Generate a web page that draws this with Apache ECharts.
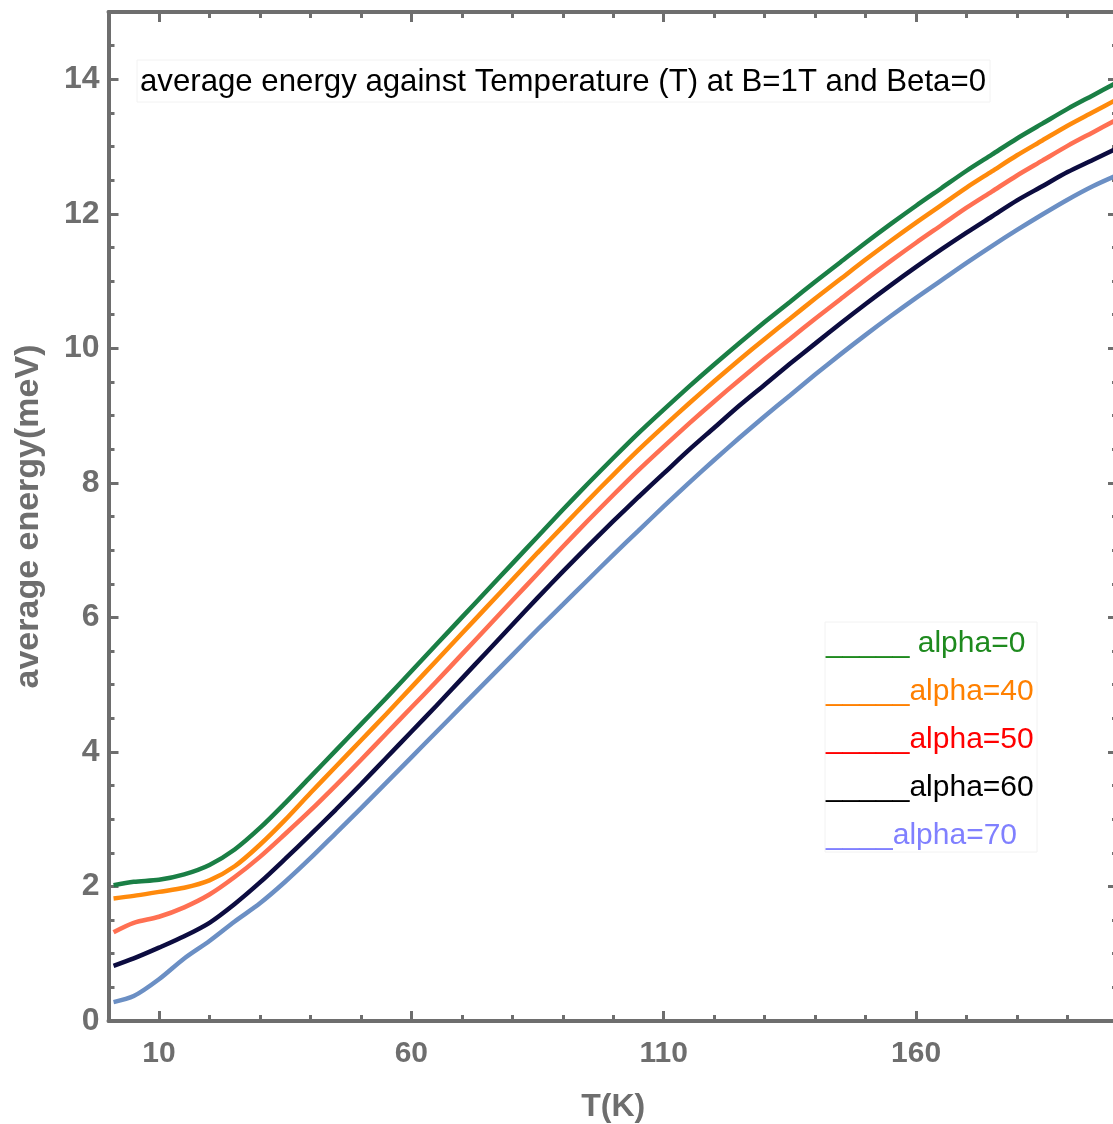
<!DOCTYPE html>
<html>
<head>
<meta charset="utf-8">
<script src="https://cdn.jsdelivr.net/npm/echarts@6/dist/echarts.min.js"></script>
<style>
html,body{margin:0;padding:0;background:#fff;}
#chart{width:1113px;height:1124px;}
</style>
</head>
<body>
<div id="chart"></div>
<script>
// ---- data ----
const T_VALUES = [1, 5, 10, 15, 20, 25, 30, 35, 40, 45, 50, 55, 60, 65, 70, 75, 80, 85, 90, 95, 100, 105, 110, 115, 120, 125, 130, 135, 140, 145, 150, 155, 160, 165, 170, 175, 180, 185, 190, 195, 200];
const ALPHA_0  = [2.02, 2.07, 2.10, 2.18, 2.32, 2.55, 2.87, 3.24, 3.63, 4.02, 4.41, 4.80, 5.20, 5.60, 6.00, 6.40, 6.80, 7.20, 7.60, 7.99, 8.37, 8.74, 9.09, 9.43, 9.76, 10.08, 10.39, 10.69, 10.99, 11.28, 11.57, 11.85, 12.12, 12.38, 12.64, 12.88, 13.12, 13.34, 13.56, 13.76, 13.96];
const ALPHA_40 = [1.82, 1.86, 1.92, 1.98, 2.09, 2.30, 2.62, 2.99, 3.39, 3.78, 4.17, 4.56, 4.96, 5.36, 5.76, 6.16, 6.56, 6.96, 7.35, 7.74, 8.12, 8.49, 8.84, 9.18, 9.51, 9.83, 10.14, 10.44, 10.74, 11.03, 11.32, 11.60, 11.87, 12.13, 12.39, 12.63, 12.87, 13.09, 13.31, 13.51, 13.71];
const ALPHA_50 = [1.32, 1.46, 1.55, 1.69, 1.88, 2.14, 2.44, 2.78, 3.13, 3.50, 3.88, 4.27, 4.66, 5.05, 5.45, 5.85, 6.25, 6.65, 7.05, 7.44, 7.82, 8.19, 8.54, 8.88, 9.21, 9.53, 9.84, 10.14, 10.44, 10.73, 11.02, 11.30, 11.57, 11.83, 12.09, 12.33, 12.57, 12.79, 13.01, 13.21, 13.41];
const ALPHA_60 = [0.82, 0.93, 1.09, 1.26, 1.46, 1.74, 2.06, 2.41, 2.77, 3.14, 3.52, 3.91, 4.30, 4.69, 5.09, 5.49, 5.89, 6.29, 6.68, 7.06, 7.43, 7.79, 8.14, 8.49, 8.82, 9.15, 9.46, 9.77, 10.07, 10.37, 10.66, 10.94, 11.21, 11.47, 11.72, 11.96, 12.20, 12.41, 12.62, 12.80, 12.98];
const ALPHA_70 = [0.28, 0.37, 0.62, 0.93, 1.19, 1.48, 1.75, 2.07, 2.42, 2.79, 3.16, 3.54, 3.92, 4.30, 4.68, 5.06, 5.44, 5.82, 6.19, 6.56, 6.93, 7.29, 7.65, 8.00, 8.34, 8.67, 8.99, 9.30, 9.61, 9.91, 10.20, 10.48, 10.75, 11.01, 11.27, 11.52, 11.76, 11.99, 12.21, 12.41, 12.58];
const SERIES_NAMES = ['alpha=0', 'alpha=40', 'alpha=50', 'alpha=60', 'alpha=70'];
const LEGEND_TEXTS = ['_____ alpha=0', '_____alpha=40', '_____alpha=50', '_____alpha=60', '____alpha=70'];
const X_TICK_LABELS = [10, 60, 110, 160];
const Y_TICK_LABELS = [0, 2, 4, 6, 8, 10, 12, 14];
const TITLE_TEXT = 'average energy against Temperature (T) at B=1T and Beta=0';

// ---- styles ----
const LINE_COLORS = ['#1a7f45', '#ff8a0c', '#ff7052', '#0c0c40', '#6b8fc4'];
const LEGEND_COLORS = ['#1e8a1e', '#ff8000', '#ff0000', '#000000', '#8080ff'];
const AXIS_COLOR = '#6e6e6e';
const FONT = '"Liberation Sans", Arial, sans-serif';

const chart = echarts.init(document.getElementById('chart'), null, {renderer: 'canvas'});

const valuesList = [ALPHA_0, ALPHA_40, ALPHA_50, ALPHA_60, ALPHA_70];
const series = valuesList.map((vals, i) => ({
  name: SERIES_NAMES[i],
  type: 'line',
  xAxisIndex: 0,
  yAxisIndex: 0,
  smooth: 0.3,
  showSymbol: false,
  symbol: 'none',
  clip: true,
  lineStyle: {color: LINE_COLORS[i], width: 4.5},
  itemStyle: {color: LINE_COLORS[i]},
  data: T_VALUES.map((t, k) => [t, vals[k]]),
  z: 5 - i
}));

const GRID_RECT = {left: 108.5, top: 12, width: 1009.5, height: 1009, containLabel: false, outerBoundsMode: 'none'};

function xAx(gridIndex, pos, major, labels) {
  return {
    gridIndex: gridIndex,
    type: 'value', position: pos, min: 0, max: 200,
    interval: 10,
    axisLine: {show: major, onZero: false, lineStyle: {color: AXIS_COLOR, width: 4}},
    axisTick: major ? {show: true, inside: true, length: 10, customValues: X_TICK_LABELS, lineStyle: {color: AXIS_COLOR, width: 3}}
                    : {show: true, inside: true, length: 6, lineStyle: {color: AXIS_COLOR, width: 3}},
    axisLabel: labels ? {show: true, customValues: X_TICK_LABELS, margin: 18, color: AXIS_COLOR, fontSize: 30, fontWeight: 'bold', fontFamily: FONT}
                      : {show: false},
    splitLine: {show: false},
    name: labels ? 'T(K)' : '',
    nameLocation: 'middle',
    nameGap: 70,
    nameTextStyle: {color: AXIS_COLOR, fontSize: 32, fontWeight: 'bold', fontFamily: FONT}
  };
}
function yAx(gridIndex, pos, major, labels) {
  return {
    gridIndex: gridIndex,
    type: 'value', position: pos, min: 0, max: 15,
    interval: 0.5,
    axisLine: {show: major, onZero: false, lineStyle: {color: AXIS_COLOR, width: 4}},
    axisTick: major ? {show: true, inside: true, length: 10, customValues: Y_TICK_LABELS, lineStyle: {color: AXIS_COLOR, width: 3}}
                    : {show: true, inside: true, length: 6, lineStyle: {color: AXIS_COLOR, width: 3}},
    axisLabel: labels ? {show: true, customValues: Y_TICK_LABELS, margin: 9, color: AXIS_COLOR, fontSize: 32, fontWeight: 'bold', fontFamily: FONT}
                      : {show: false},
    splitLine: {show: false},
    name: labels ? 'average energy(meV)' : '',
    nameLocation: 'middle',
    nameRotate: 90,
    nameGap: 63,
    nameTextStyle: {color: AXIS_COLOR, fontSize: 34, fontWeight: 'bold', fontFamily: FONT}
  };
}

const graphic = [
  {type: 'rect', z: 10, shape: {x: 137, y: 60, width: 853, height: 42}, style: {fill: '#ffffff', stroke: '#f2f2f2', lineWidth: 1}},
  {type: 'text', z: 11, style: {text: TITLE_TEXT, x: 140, y: 82, verticalAlign: 'middle', fill: '#000', font: '31.2px ' + FONT}},
  {type: 'rect', z: 10, shape: {x: 825, y: 622, width: 212, height: 230}, style: {fill: '#ffffff', stroke: '#f2f2f2', lineWidth: 1}}
];
LEGEND_TEXTS.forEach((t, i) => {
  graphic.push({type: 'text', z: 11, style: {text: t, x: 826, y: 644 + 48 * i, verticalAlign: 'middle', fill: LEGEND_COLORS[i], font: '30px ' + FONT}});
});

chart.setOption({
  backgroundColor: '#ffffff',
  animation: false,
  grid: [Object.assign({}, GRID_RECT), Object.assign({}, GRID_RECT)],
  xAxis: [xAx(0, 'bottom', true, true), xAx(0, 'top', true, false), xAx(1, 'bottom', false, false), xAx(1, 'top', false, false)],
  yAxis: [yAx(0, 'left', true, true), yAx(0, 'right', true, false), yAx(1, 'left', false, false), yAx(1, 'right', false, false)],
  series: series,
  graphic: graphic
});
</script>
</body>
</html>
